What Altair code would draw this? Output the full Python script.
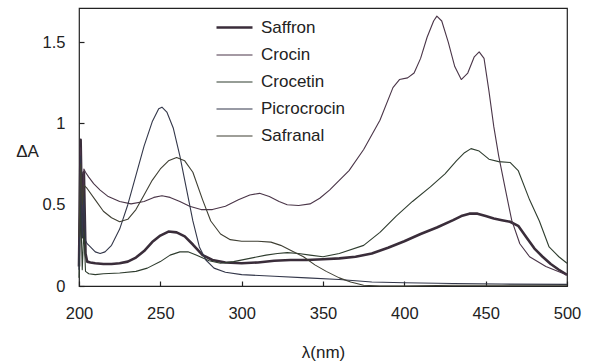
import altair as alt
import pandas as pd

series_names = ["Saffron", "Crocin", "Crocetin", "Picrocrocin", "Safranal"]
series_colors = ["#3a2d3a", "#4a3548", "#2f3d2f", "#33374a", "#3f3f33"]
series_widths = [2.6, 1.1, 1.1, 1.1, 1.1]

wl_saffron = [200, 201, 202, 203, 204, 205, 207, 210, 215, 220, 225, 230, 235, 240, 245, 250, 255, 260, 265,
              270, 276, 282, 290, 300, 310, 320, 330, 340, 350, 360, 370, 380, 390, 400, 410, 420, 430, 435,
              440, 445, 450, 455, 460, 465, 470, 475, 480, 485, 490, 495, 500]
abs_saffron = [0.12, 0.9, 0.3, 0.7, 0.2, 0.15, 0.145, 0.14, 0.135, 0.135, 0.14, 0.15, 0.175, 0.215, 0.27, 0.31,
               0.335, 0.33, 0.305, 0.255, 0.19, 0.16, 0.145, 0.14, 0.145, 0.155, 0.16, 0.16, 0.165, 0.17, 0.18,
               0.2, 0.235, 0.275, 0.32, 0.36, 0.405, 0.43, 0.445, 0.445, 0.43, 0.415, 0.405, 0.395, 0.37, 0.3,
               0.23, 0.18, 0.135, 0.1, 0.068]

wl_crocin = [200, 201, 202, 203, 204, 206, 209, 213, 218, 225, 232, 240, 246, 251, 256, 262, 268, 275, 282, 290,
             298, 305, 311, 317, 323, 328, 335, 342, 348, 354, 360, 366, 375, 385, 393, 397, 402, 406, 410, 414,
             418, 420, 423, 427, 431, 435, 439, 443, 446, 449, 452, 455, 458, 462, 466, 471, 477, 487, 500]
abs_crocin = [0.2, 0.85, 0.45, 0.72, 0.7, 0.67, 0.63, 0.59, 0.55, 0.52, 0.505, 0.52, 0.545, 0.555, 0.545, 0.52,
              0.49, 0.47, 0.47, 0.49, 0.53, 0.56, 0.57, 0.55, 0.52, 0.5, 0.495, 0.505, 0.54, 0.59, 0.65, 0.71,
              0.84, 1.02, 1.22, 1.27, 1.28, 1.31, 1.4, 1.53, 1.63, 1.66, 1.63, 1.5, 1.35, 1.27, 1.31, 1.41, 1.44,
              1.4, 1.2, 0.98, 0.8, 0.6, 0.405, 0.26, 0.18, 0.12, 0.068]

wl_crocetin = [200, 201, 202, 203, 204, 206, 210, 215, 225, 235, 242, 250, 256, 262, 267, 272, 280, 287, 295,
               305, 315, 322, 328, 335, 342, 350, 360, 375, 385, 395, 405, 416, 425, 432, 437, 441, 446, 452,
               458, 465, 470, 477, 483, 489, 495, 500]
abs_crocetin = [0.05, 0.5, 0.1, 0.35, 0.09, 0.075, 0.07, 0.075, 0.08, 0.09, 0.11, 0.15, 0.19, 0.21, 0.21, 0.19,
                0.155, 0.14, 0.15, 0.17, 0.19, 0.2, 0.205, 0.2, 0.19, 0.18, 0.2, 0.25, 0.33, 0.43, 0.52, 0.61,
                0.69, 0.77, 0.82, 0.845, 0.83, 0.78, 0.765, 0.76, 0.71, 0.53, 0.4, 0.24, 0.18, 0.14]

wl_picrocrocin = [200, 201, 202, 203, 204, 205, 207, 210, 213, 216, 220, 225, 230, 235, 240, 245, 249, 251, 254,
                  258, 262, 266, 270, 274, 278, 283, 290, 300, 320, 340, 360, 380, 400, 430, 460, 500]
abs_picrocrocin = [0.1, 0.8, 0.3, 0.55, 0.28, 0.26, 0.24, 0.21, 0.2, 0.21, 0.25, 0.35, 0.5, 0.68, 0.86, 1.01,
                   1.09, 1.1, 1.07, 0.97, 0.8, 0.6, 0.4, 0.24, 0.16, 0.11, 0.085, 0.07, 0.06, 0.05, 0.04, 0.025,
                   0.02, 0.015, 0.012, 0.01]

wl_safranal = [200, 201, 202, 203, 205, 210, 215, 220, 225, 230, 235, 240, 245, 250, 255, 260, 265, 270, 276,
               281, 287, 293, 300, 310, 318, 324, 330, 338, 345, 352, 360, 367, 375, 385, 400, 430, 460, 500]
abs_safranal = [0.3, 0.75, 0.5, 0.62, 0.6, 0.53, 0.46, 0.42, 0.395, 0.41, 0.47, 0.56, 0.65, 0.72, 0.77, 0.79,
                0.77, 0.7, 0.53, 0.4, 0.32, 0.285, 0.275, 0.275, 0.27, 0.25, 0.22, 0.18, 0.13, 0.09, 0.05, 0.025,
                0.005, 0.0, 0.0, 0.005, 0.005, 0.005]

x_ticks = [200, 250, 300, 350, 400, 450, 500]
y_ticks = [0, 0.5, 1, 1.5]

rows = []
for name, wls, vals in [
    ("Saffron", wl_saffron, abs_saffron),
    ("Crocin", wl_crocin, abs_crocin),
    ("Crocetin", wl_crocetin, abs_crocetin),
    ("Picrocrocin", wl_picrocrocin, abs_picrocrocin),
    ("Safranal", wl_safranal, abs_safranal),
]:
    for i, (w, v) in enumerate(zip(wls, vals)):
        rows.append({"series": name, "wl": w, "val": v, "order": i})
df = pd.DataFrame(rows)

FONT = "Liberation Sans"

legend_opts = dict(title=None, orient="none", legendX=136, legendY=0,
                   symbolType="stroke", symbolSize=1296, labelFont=FONT,
                   labelFontSize=17, labelColor="#222", labelOffset=7, rowPadding=0)

chart = alt.Chart(df).mark_line(strokeJoin="round").encode(
    x=alt.X("wl:Q", scale=alt.Scale(domain=[200, 500], nice=False, zero=False),
            axis=alt.Axis(values=x_ticks, title="λ(nm)", format="d", offset=-5, tickSize=5,
                          labelPadding=19, titlePadding=23, domain=False, grid=False,
                          labelFlush=False)),
    y=alt.Y("val:Q", scale=alt.Scale(domain=[0, 1.71], nice=False, zero=False),
            axis=alt.Axis(values=y_ticks, title="ΔA", format="~g", offset=-5, tickSize=5,
                          labelPadding=14, domain=False, grid=False, titleAngle=0,
                          titleAlign="center", titleBaseline="middle", titleX=-57, titleY=143,
                          labelFlush=False)),
    color=alt.Color("series:N", scale=alt.Scale(domain=series_names, range=series_colors),
                    legend=alt.Legend(**legend_opts)),
    strokeWidth=alt.StrokeWidth("series:N",
                                scale=alt.Scale(type="ordinal", domain=series_names, range=series_widths),
                                legend=alt.Legend(**legend_opts)),
    order="order:Q",
).properties(
    width=488, height=278,
    autosize=alt.AutoSizeParams(type="none"),
    padding={"left": 79, "top": 8, "right": 22, "bottom": 77},
).configure(
    background="white"
).configure_view(
    stroke="#222", strokeWidth=1.2
).configure_axis(
    labelFont=FONT, labelFontSize=16.5, labelColor="#222", titleFont=FONT, titleFontSize=17,
    titleFontWeight="normal", titleColor="#222", tickColor="#222", tickWidth=1.2
)

chart.save("out.html", embed_options={"renderer": "svg", "actions": False})
